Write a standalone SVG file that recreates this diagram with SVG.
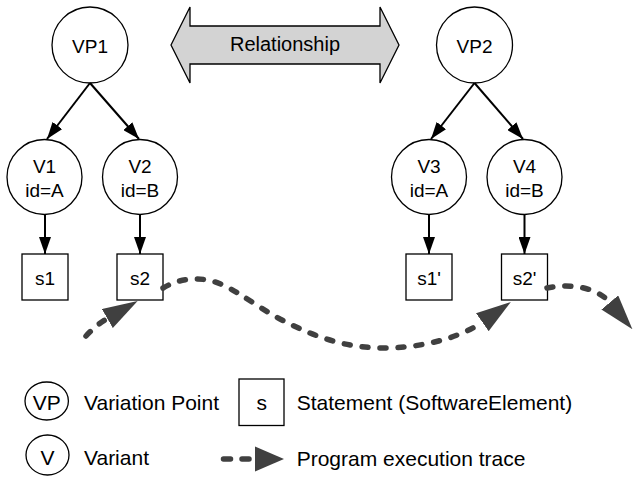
<svg xmlns="http://www.w3.org/2000/svg" width="639" height="486" viewBox="0 0 639 486">
  <style>
    .node { fill: #ffffff; stroke: #000000; stroke-width: 1.3; }
    .lbl { font-family: "Liberation Sans", Arial, sans-serif; font-size: 19px; fill: #000000; text-anchor: middle; }
    .leg { font-family: "Liberation Sans", Arial, sans-serif; font-size: 21px; fill: #000000; }
    .conn { fill: none; stroke: #000000; stroke-width: 2; marker-end: url(#blackHead); }
    .trace { fill: none; stroke: #404040; stroke-width: 5.5; stroke-linecap: round; stroke-dasharray: 6 12; marker-end: url(#traceHead); }
  </style>
  <defs>
    <marker id="blackHead" markerUnits="userSpaceOnUse" markerWidth="17" markerHeight="12" viewBox="0 0 17 12" refX="17" refY="6" orient="auto">
      <path d="M0,0 L17,6 L0,12 z" fill="#000000"/>
    </marker>
    <marker id="traceHead" markerUnits="userSpaceOnUse" markerWidth="35" markerHeight="22" viewBox="0 0 35 22" refX="0" refY="11" orient="auto">
      <path d="M0,0 L35,11 L0,22 z" fill="#404040"/>
    </marker>
  </defs>
  <rect x="0" y="0" width="639" height="486" fill="#ffffff"/>

  <g id="relationship">
    <polygon points="171,45 190,7 190,26 380,26 380,7 399,45 380,83 380,64 190,64 190,83" fill="#d3d3d3" stroke="#000000" stroke-width="1.3"/>
    <text class="lbl" x="285" y="51" style="font-size:20px">Relationship</text>
  </g>

  <g id="VP1">
    <circle class="node" cx="90" cy="45" r="38"/>
    <text class="lbl" x="90" y="52.5">VP1</text>
  </g>
  <g id="VP2">
    <circle class="node" cx="474.5" cy="45" r="38"/>
    <text class="lbl" x="474.5" y="52.5">VP2</text>
  </g>

  <g id="V1">
    <circle class="node" cx="44.5" cy="177" r="37.5"/>
    <text class="lbl" x="44.5" y="173">V1</text>
    <text class="lbl" x="44.5" y="196.5">id=A</text>
  </g>
  <g id="V2">
    <circle class="node" cx="140" cy="177" r="37.5"/>
    <text class="lbl" x="140" y="173">V2</text>
    <text class="lbl" x="140" y="196.5">id=B</text>
  </g>
  <g id="V3">
    <circle class="node" cx="429" cy="177" r="37.5"/>
    <text class="lbl" x="429" y="173">V3</text>
    <text class="lbl" x="429" y="196.5">id=A</text>
  </g>
  <g id="V4">
    <circle class="node" cx="524.5" cy="177" r="37.5"/>
    <text class="lbl" x="524.5" y="173">V4</text>
    <text class="lbl" x="524.5" y="196.5">id=B</text>
  </g>

  <g id="s1">
    <rect class="node" x="22" y="254" width="46" height="46"/>
    <text class="lbl" x="45" y="284.5">s1</text>
  </g>
  <g id="s2">
    <rect class="node" x="117" y="254" width="46" height="46"/>
    <text class="lbl" x="140" y="284.5">s2</text>
  </g>
  <g id="s1p">
    <rect class="node" x="406" y="254" width="46" height="46"/>
    <text class="lbl" x="429" y="284.5">s1'</text>
  </g>
  <g id="s2p">
    <rect class="node" x="501.5" y="254" width="46" height="46"/>
    <text class="lbl" x="524.5" y="284.5">s2'</text>
  </g>

  <g id="connectors">
    <line class="conn" x1="90" y1="83" x2="47" y2="139"/>
    <line class="conn" x1="90" y1="83" x2="139" y2="139"/>
    <line class="conn" x1="474.5" y1="83" x2="431" y2="139"/>
    <line class="conn" x1="474.5" y1="83" x2="523" y2="139"/>
    <line class="conn" x1="45" y1="214.5" x2="45" y2="254"/>
    <line class="conn" x1="140" y1="214.5" x2="140" y2="254"/>
    <line class="conn" x1="429" y1="214.5" x2="429" y2="254"/>
    <line class="conn" x1="524.5" y1="214.5" x2="524.5" y2="254"/>
  </g>

  <g id="trace">
    <path class="trace" d="M86,336 Q96,325 107.3,318.5"/>
    <path class="trace" d="M163,288 C175,281 185,279 197,279 C225,279 245,300 280,319 C320,340 350,348 385,348 C420,348 460,338 482.3,322.2"/>
    <path class="trace" d="M547,288 C565,284 595,285 609.8,302.5"/>
  </g>

  <g id="legend">
    <ellipse class="node" cx="46.7" cy="401" rx="21.7" ry="19"/>
    <text class="leg" x="46.7" y="410" text-anchor="middle">VP</text>
    <text class="leg" x="84" y="410">Variation Point</text>
    <rect class="node" x="239" y="379" width="45" height="46.5"/>
    <text class="leg" x="261.7" y="410" text-anchor="middle">s</text>
    <text class="leg" x="296.7" y="410">Statement (SoftwareElement)</text>
    <ellipse class="node" cx="47.5" cy="455" rx="21.5" ry="20"/>
    <text class="leg" x="47.5" y="465" text-anchor="middle">V</text>
    <text class="leg" x="84" y="465">Variant</text>
    <path d="M223.5,459 L252,459" fill="none" stroke="#404040" stroke-width="5.5" stroke-linecap="round" stroke-dasharray="7 11.5"/>
    <polygon points="255,446.5 284,459 255,471.5" fill="#404040"/>
    <text class="leg" x="296.7" y="465.5">Program execution trace</text>
  </g>
</svg>
